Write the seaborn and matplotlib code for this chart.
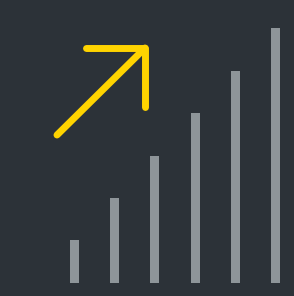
import matplotlib
matplotlib.use("Agg")
import matplotlib.pyplot as plt
import seaborn as sns
import pandas as pd

categories = ["1", "2", "3", "4", "5", "6"]
values = [1, 2, 3, 4, 5, 6]

BG = "#2c3238"
BAR = "#8e9599"
YEL = "#ffd400"

sns.set_theme(style="white")
fig = plt.figure(figsize=(2.94, 2.96), dpi=100, facecolor=BG)
ax = fig.add_axes([0, 0, 1, 1])
ax.set_facecolor(BG)

df = pd.DataFrame({"cat": categories, "val": values})
sns.barplot(data=df, x="cat", y="val", color=BAR, saturation=1, width=0.223,
            linewidth=0, edgecolor=BAR, ax=ax)

ax.set_xlim(-1.832, 5.446)
ax.set_ylim(-0.306, 6.659)
ax.set_axis_off()

# arrow (figure-fraction coordinates)
def fx(px):
    return px / 294
def fy(py):
    return 1 - py / 296

lw = 5.0
ax.plot([fx(57), fx(145)], [fy(135), fy(48)], color=YEL, lw=lw,
        solid_capstyle="round", transform=fig.transFigure)
ax.plot([fx(86), fx(145), fx(145)], [fy(48), fy(48), fy(107)], color=YEL, lw=lw,
        solid_capstyle="round", solid_joinstyle="round", transform=fig.transFigure)

fig.savefig("out.png", dpi=100, facecolor=BG)
